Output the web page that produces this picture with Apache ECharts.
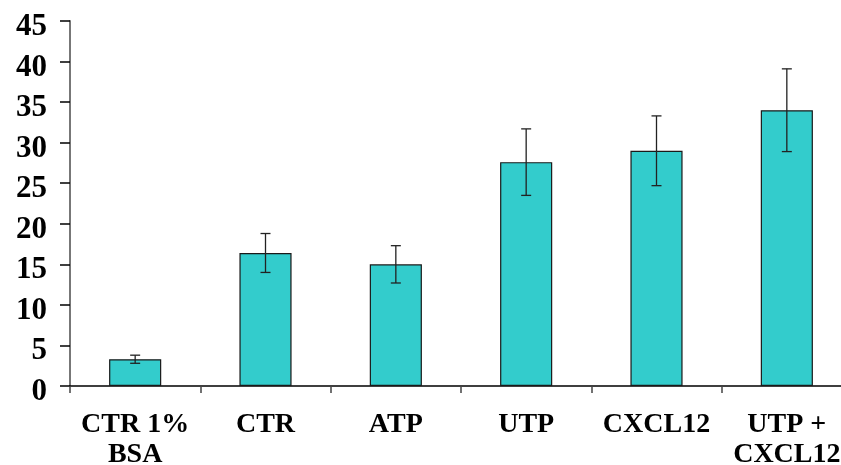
<!DOCTYPE html>
<html>
<head>
<meta charset="utf-8">
<script src="https://cdn.jsdelivr.net/npm/echarts@6/dist/echarts.min.js"></script>
<style>
  html, body { margin: 0; padding: 0; background: #fff; }
  #chart { width: 841px; height: 465px; }
</style>
</head>
<body>
<div id="chart"></div>
<script>
// Treatment groups along the x axis
const categories = ['CTR 1%\nBSA', 'CTR', 'ATP', 'UTP', 'CXCL12', 'UTP +\nCXCL12'];
// Mean response per group
const means = [3.3, 16.4, 15.0, 27.6, 29.0, 34.0];
// Error (± half-range) per group
const errors = [0.5, 2.4, 2.3, 4.1, 4.3, 5.1];
// Value axis settings
const yMin = 0, yMax = 45, yStep = 5;

const FONT = "'Liberation Serif', 'Times New Roman', serif";

const chart = echarts.init(document.getElementById('chart'), null, { renderer: 'canvas' });

const errorData = categories.map((c, i) => [i, means[i] - errors[i], means[i] + errors[i]]);

chart.setOption({
  animation: false,
  backgroundColor: '#ffffff',
  grid: { left: 70, top: 21, width: 782, height: 365, containLabel: false, outerBoundsMode: 'none' },
  xAxis: {
    type: 'category',
    data: categories,
    boundaryGap: true,
    axisLine: { show: true, onZero: true, lineStyle: { color: '#000', width: 1.5 } },
    axisTick: { show: true, inside: false, length: 7, alignWithLabel: false, lineStyle: { color: '#444', width: 1.5 } },
    axisLabel: {
      interval: 0,
      margin: 24,
      color: '#000',
      fontFamily: FONT,
      fontWeight: 'bold',
      fontSize: 28,
      lineHeight: 30
    },
    splitLine: { show: false }
  },
  yAxis: {
    type: 'value',
    min: yMin,
    max: yMax,
    interval: yStep,
    axisLine: { show: true, lineStyle: { color: '#777', width: 2 } },
    axisTick: { show: true, inside: false, length: 10, lineStyle: { color: '#000', width: 1.5 } },
    axisLabel: {
      margin: 23,
      color: '#000',
      formatter: '{v|{value}}',
      rich: {
        v: {
          fontFamily: FONT,
          fontWeight: 'bold',
          fontSize: 31,
          color: '#000',
          padding: [12, 0, 0, 0]
        }
      }
    },
    splitLine: { show: false }
  },
  series: [
    {
      type: 'bar',
      data: means,
      barWidth: '40%',
      itemStyle: { color: '#33CCCC', borderColor: '#1a1a1a', borderWidth: 1.2 },
      z: 2
    },
    {
      type: 'custom',
      data: errorData,
      z: 5,
      renderItem: function (params, api) {
        const x = api.value(0);
        const lo = api.coord([x, api.value(1)]);
        const hi = api.coord([x, api.value(2)]);
        const half = 5;
        const style = { stroke: '#222', lineWidth: 1.3 };
        return {
          type: 'group',
          children: [
            { type: 'line', shape: { x1: hi[0], y1: hi[1], x2: lo[0], y2: lo[1] }, style: style },
            { type: 'line', shape: { x1: hi[0] - half, y1: hi[1], x2: hi[0] + half, y2: hi[1] }, style: style },
            { type: 'line', shape: { x1: lo[0] - half, y1: lo[1], x2: lo[0] + half, y2: lo[1] }, style: style }
          ]
        };
      }
    }
  ]
});
</script>
</body>
</html>
